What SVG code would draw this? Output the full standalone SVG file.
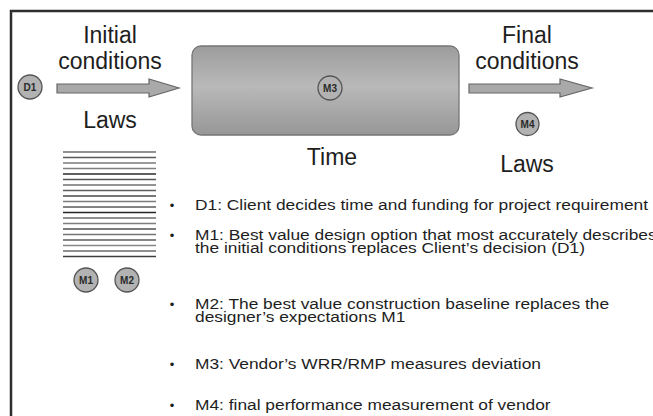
<svg xmlns="http://www.w3.org/2000/svg" width="653" height="416" viewBox="0 0 653 416">
  <style>
    .hd { font-family: "Liberation Sans", Arial, sans-serif; font-size: 23px; fill: #1e1e1e; text-anchor: middle; }
    .bt { font-family: "Liberation Sans", Arial, sans-serif; font-size: 15.5px; fill: #1e1e1e; }
    .bul { font-family: "Liberation Sans", Arial, sans-serif; font-size: 13px; fill: #1e1e1e; text-anchor: middle; }
    .cir { fill: #b2b2b2; stroke: #555555; stroke-width: 1.3; }
    .ct { font-family: "Liberation Sans", Arial, sans-serif; font-size: 10px; font-weight: bold; fill: #2a2a2a; text-anchor: middle; }
    .arr { fill: #a9a9a9; stroke: #666666; stroke-width: 1.2; }
    .st { stroke-width: 1.7; }
  </style>
  <defs>
    <linearGradient id="boxg" x1="0" y1="0" x2="0" y2="1">
      <stop offset="0" stop-color="#9c9c9c"/>
      <stop offset="0.45" stop-color="#b9b9b9"/>
      <stop offset="1" stop-color="#979797"/>
    </linearGradient>
  </defs>
  <rect x="0" y="0" width="653" height="416" fill="#ffffff"/>
  <g id="frame" fill="none" stroke="#2e2e2e" stroke-width="2.5">
    <path d="M11,416 V11 H653"/>
  </g>

  <g id="connectors">
    <path class="arr" d="M57,84 H149 V79 L179,88 L149,97 V93 H57 Z"/>
    <path class="arr" d="M469,84 H560 V79 L592,88 L560,97 V93 H469 Z"/>
  </g>

  <g id="initial-conditions">
    <text class="hd" x="110" y="43">Initial</text>
    <text class="hd" x="110" y="69">conditions</text>
    <text class="hd" x="110" y="128">Laws</text>
  </g>

  <g id="D1">
    <circle class="cir" cx="30" cy="87" r="12"/>
    <text class="ct" x="30" y="90.5">D1</text>
  </g>

  <g id="time-box">
    <rect x="192" y="46" width="267" height="89" rx="9" fill="url(#boxg)" stroke="#767676" stroke-width="1.3"/>
    <text class="hd" x="332" y="165">Time</text>
  </g>

  <g id="M3">
    <circle class="cir" cx="330" cy="88" r="12"/>
    <text class="ct" x="330" y="91.5">M3</text>
  </g>

  <g id="final-conditions">
    <text class="hd" x="527" y="43">Final</text>
    <text class="hd" x="527" y="69">conditions</text>
    <text class="hd" x="527" y="172">Laws</text>
  </g>

  <g id="M4">
    <circle class="cir" cx="527.5" cy="124" r="11.5"/>
    <text class="ct" x="527.5" y="127.5">M4</text>
  </g>

  <g id="laws-stripes" class="st">
    <line x1="63" x2="156" y1="152" y2="152" stroke="#6e6e6e"/>
    <line x1="63" x2="156" y1="157.5" y2="157.5" stroke="#5a5a5a"/>
    <line x1="63" x2="156" y1="163" y2="163" stroke="#7a7a7a"/>
    <line x1="63" x2="156" y1="168.5" y2="168.5" stroke="#808080"/>
    <line x1="63" x2="156" y1="174" y2="174" stroke="#2a2a2a"/>
    <line x1="63" x2="156" y1="179.5" y2="179.5" stroke="#555555"/>
    <line x1="63" x2="156" y1="185" y2="185" stroke="#707070"/>
    <line x1="63" x2="156" y1="190.5" y2="190.5" stroke="#5e5e5e"/>
    <line x1="63" x2="156" y1="196" y2="196" stroke="#484848"/>
    <line x1="63" x2="156" y1="201.5" y2="201.5" stroke="#7c7c7c"/>
    <line x1="63" x2="156" y1="207" y2="207" stroke="#5a5a5a"/>
    <line x1="63" x2="156" y1="212.5" y2="212.5" stroke="#262626"/>
    <line x1="63" x2="156" y1="218" y2="218" stroke="#6a6a6a"/>
    <line x1="63" x2="156" y1="223.5" y2="223.5" stroke="#7e7e7e"/>
    <line x1="63" x2="156" y1="229" y2="229" stroke="#505050"/>
    <line x1="63" x2="156" y1="234.5" y2="234.5" stroke="#747474"/>
    <line x1="63" x2="156" y1="240" y2="240" stroke="#5c5c5c"/>
    <line x1="63" x2="156" y1="245.5" y2="245.5" stroke="#868686"/>
    <line x1="63" x2="156" y1="251" y2="251" stroke="#6a6a6a"/>
    <line x1="63" x2="156" y1="256.5" y2="256.5" stroke="#3e3e3e"/>
  </g>

  <g id="M1">
    <circle class="cir" cx="86" cy="280" r="12"/>
    <text class="ct" x="86" y="283.5">M1</text>
  </g>
  <g id="M2">
    <circle class="cir" cx="127" cy="280" r="12"/>
    <text class="ct" x="127" y="283.5">M2</text>
  </g>

  <g id="legend">
    <text class="bul" x="172" y="210">•</text>
    <text class="bul" x="172" y="240">•</text>
    <text class="bul" x="172" y="309">•</text>
    <text class="bul" x="172" y="369">•</text>
    <text class="bul" x="172" y="410">•</text>
    <g transform="translate(195 0) scale(1.12 1)">
      <text class="bt" x="0" y="210">D1: Client decides time and funding for project requirement</text>
      <text class="bt" x="0" y="240">M1: Best value design option that most accurately describes<tspan x="0" y="253">the initial conditions replaces Client’s decision (D1)</tspan></text>
      <text class="bt" x="0" y="309">M2: The best value construction baseline replaces the<tspan x="0" y="322">designer’s expectations M1</tspan></text>
      <text class="bt" x="0" y="369">M3: Vendor’s WRR/RMP measures deviation</text>
      <text class="bt" x="0" y="410">M4: final performance measurement of vendor</text>
    </g>
  </g>
</svg>
